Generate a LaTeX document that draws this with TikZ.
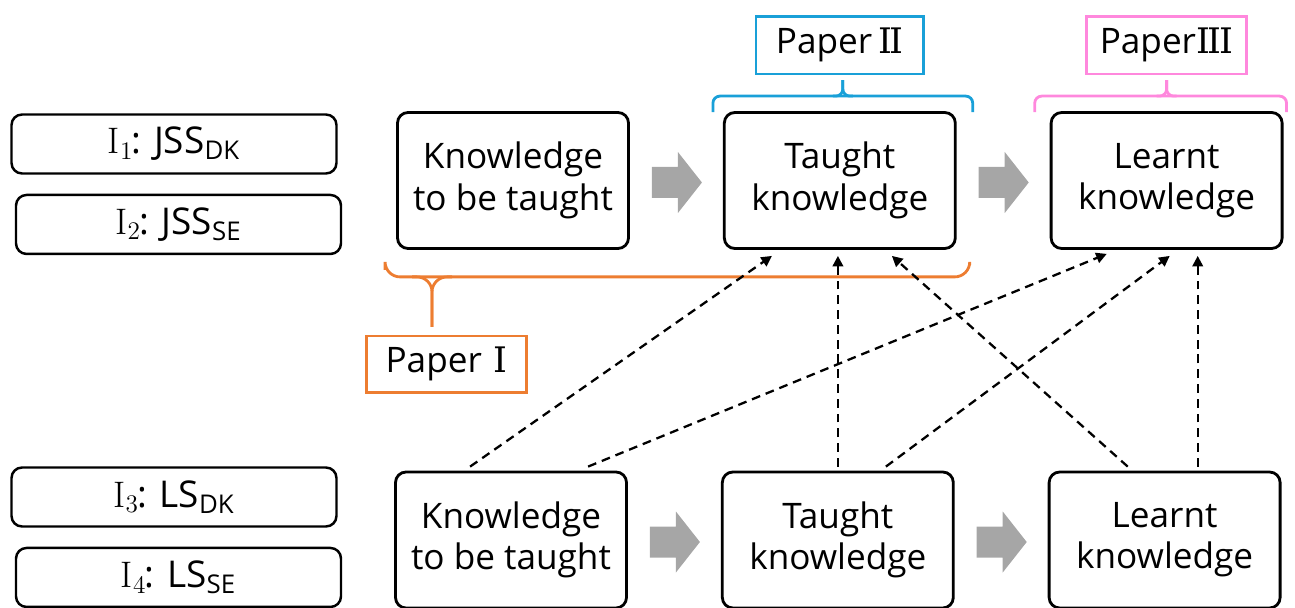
\documentclass[tikz,border=0pt]{standalone}
\usepackage{fontspec}
\setsansfont{Open Sans}
\newfontfamily\numfont{DejaVu Serif}
\usepackage{tikz}
\usetikzlibrary{arrows.meta,positioning,calc}
\definecolor{ink}{HTML}{000000}
\definecolor{paperone}{HTML}{ED7D31}
\definecolor{papertwo}{HTML}{19A0D8}
\definecolor{paperthree}{HTML}{FF88DD}
\definecolor{flowgray}{HTML}{A6A6A6}
\newcommand{\nl}{\\}
\newcommand{\numI}{{\numfont I}}
% grey block arrow to the right of a node
\newcommand{\flowarr}[1]{\fill[flowgray] ($(#1.east)+(0.44,0.27)$) -- ++(0.52,0) -- ++(0,0.30)
  -- ++(0.48,-0.61) -- ++(-0.48,-0.61) -- ++(0,0.30) -- ++(-0.52,0) -- cycle;}

\begin{document}
\begin{tikzpicture}[
  font=\sffamily\fontsize{20}{23.5}\selectfont,
  kbox/.style={rectangle,rounded corners=6pt,minimum width=4.62cm,minimum height=2.72cm,
    align=center,draw=ink,line width=1.6pt},
  idbox/.style={rectangle,rounded corners=6pt,minimum width=6.5cm,minimum height=1.18cm,
    draw=ink,line width=1.4pt,font=\sffamily\fontsize{21}{24}\selectfont},
  paperbox/.style={rectangle,minimum height=1.15cm,line width=1.4pt},
  brace/.style={line width=1.6pt,rounded corners=4pt},
  dep/.style={-{Triangle[length=6pt,width=6pt]},dash pattern=on 5pt off 3.4pt,line width=1.3pt,color=ink},
]
  \useasboundingbox (0,0) rectangle (25.9,-12.16);

  % study identifiers
  \node[idbox] (i1) at (3.48,-2.88) {$\mathrm{I}_1$\kern-1pt: JSS\textsubscript{DK}};
  \node[idbox,below=0.38cm of i1,xshift=0.09cm] (i2) {$\mathrm{I}_2$\kern-1pt: JSS\textsubscript{SE}};
  \node[idbox] (i3) at (3.48,-9.94) {$\mathrm{I}_3$\kern-1pt: LS\textsubscript{DK}};
  \node[idbox,below=0.38cm of i3,xshift=0.09cm] (i4) {$\mathrm{I}_4$\kern-1pt: LS\textsubscript{SE}};

  % upper row
  \node[kbox] (tb1) at (10.26,-3.61) {Knowledge\nl to be taught};
  \node[kbox,right=1.86cm of tb1] (tk1) {Taught\nl knowledge};
  \node[kbox,right=1.86cm of tk1] (lk1) {Learnt\nl knowledge};
  \flowarr{tb1} \flowarr{tk1}

  % lower row
  \node[kbox] (tb2) at (10.22,-10.8) {Knowledge\nl to be taught};
  \node[kbox,right=1.86cm of tb2] (tk2) {Taught\nl knowledge};
  \node[kbox,right=1.86cm of tk2] (lk2) {Learnt\nl knowledge};
  \flowarr{tb2} \flowarr{tk2}

  % papers
  \node[paperbox,draw=papertwo,minimum width=3.35cm,above=0.72cm of tk1] (p2) {Paper\,\numI\kern-1.2pt\numI};
  \node[paperbox,draw=paperthree,minimum width=3.2cm,above=0.72cm of lk1] (p3) {Paper\numI\kern-1.2pt\numI\kern-1.2pt\numI};
  \node[paperbox,draw=paperone,minimum width=3.2cm,minimum height=1.13cm,below=1.7cm of tb1,xshift=-1.33cm] (p1) {Paper\,\,\numI};

  \coordinate (t2) at ($(p2.south)+(0.06,-0.1)$);
  \draw[brace,papertwo] ($(tk1.north west)+(-0.2,-0.02)$) |- ($(t2)+(0,-0.32)$) -| ($(tk1.north east)+(0.32,-0.02)$);
  \draw[brace,papertwo] ($(t2)+(-0.2,-0.32)$) -| (t2);
  \draw[brace,papertwo] ($(t2)+(0.2,-0.32)$) -| (t2);

  \coordinate (t3) at ($(p3.south)+(0,-0.1)$);
  \draw[brace,paperthree] ($(lk1.north west)+(-0.3,-0.02)$) |- ($(t3)+(0,-0.32)$) -| ($(lk1.north east)+(0.06,-0.02)$);
  \draw[brace,paperthree] ($(t3)+(-0.2,-0.32)$) -| (t3);
  \draw[brace,paperthree] ($(t3)+(0.2,-0.32)$) -| (t3);

  \coordinate (t1) at ($(p1.north)+(-0.29,0.16)$);
  \draw[brace,paperone,rounded corners=0.3cm] ($(tb1.south west)+(-0.22,-0.4)$) |- ($(t1)+(0,1.0)$)
    -| ($(tk1.south east)+(0.26,-0.3)$);
  \draw[brace,paperone,rounded corners=0.3cm] ($(t1)+(-0.4,1.0)$) -| (t1);
  \draw[brace,paperone,rounded corners=0.3cm] ($(t1)+(0.4,1.0)$) -| (t1);

  % links from the lower row
  \draw[dep] ($(tb2.north west)+(1.52,0.08)$) -- ($(tk1.south west)+(0.98,-0.12)$);
  \draw[dep] ($(tb2.north west)+(3.88,0.08)$) -- ($(lk1.south west)+(1.14,-0.08)$);
  \draw[dep] ($(tk2.north west)+(2.34,0.08)$) -- ($(tk1.south west)+(2.30,-0.12)$);
  \draw[dep] ($(tk2.north west)+(3.30,0.08)$) -- ($(lk1.south west)+(2.40,-0.12)$);
  \draw[dep] ($(lk2.north west)+(1.60,0.08)$) -- ($(tk1.south west)+(3.38,-0.12)$);
  \draw[dep] ($(lk2.north west)+(3.00,0.08)$) -- ($(lk1.south west)+(2.96,-0.12)$);
\end{tikzpicture}
\end{document}
